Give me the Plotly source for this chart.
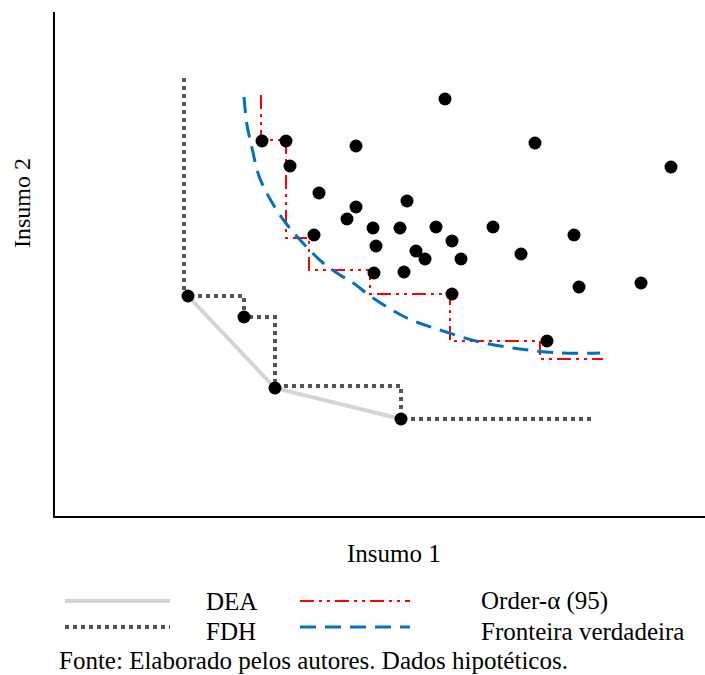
import plotly.graph_objects as go

# ---- data (arbitrary input units) ----
dmu_x = [20.7, 23.1, 23.5, 30.1, 39.0, 48.0, 61.6, 26.4, 35.2, 30.1, 29.2, 31.8, 34.5,
         38.1, 43.8, 25.9, 32.1, 39.7, 51.9, 36.1, 37.0, 40.6, 46.6, 31.9, 34.9, 39.7,
         52.4, 58.6, 49.2, 13.3, 18.9, 22.0, 34.6]
dmu_y = [37.5, 37.5, 35.0, 37.0, 41.7, 37.3, 34.9, 32.3, 31.5, 30.9, 29.7, 28.8, 28.8,
         28.9, 28.9, 28.1, 27.0, 27.5, 28.1, 26.5, 25.7, 25.7, 26.2, 24.3, 24.4, 22.2,
         22.9, 23.3, 17.5, 22.0, 19.9, 12.8, 9.7]

dea_x = [13.3, 22.0, 34.6]
dea_y = [22.0, 12.8, 9.7]

fdh_x = [12.9, 12.9, 18.9, 18.9, 22.0, 22.0, 34.6, 34.6, 53.8]
fdh_y = [43.8, 22.0, 22.0, 19.9, 19.9, 13.0, 13.0, 9.7, 9.7]

ord_x = [20.6, 20.6, 23.1, 23.1, 25.4, 25.4, 31.5, 31.5, 39.5, 39.5, 48.5, 48.5, 54.8]
ord_y = [42.1, 37.6, 37.6, 27.8, 27.8, 24.6, 24.6, 22.2, 22.2, 17.5, 17.5, 15.7, 15.7]

true_x = [18.9, 19.2, 19.7, 20.4, 21.5, 23.0, 24.7, 26.7, 28.5, 29.7, 31.8, 35.2, 38.5,
          42.5, 46.5, 50.5, 54.5]
true_y = [41.9, 39.1, 36.8, 34.0, 31.7, 29.4, 27.4, 25.4, 24.1, 23.4, 21.8, 19.8, 18.6,
          17.4, 16.7, 16.3, 16.3]

legend_labels = ["DEA", "FDH", "Order-α (95)", "Fronteira verdadeira"]
x_title = "Insumo 1"
y_title = "Insumo 2"
caption = "Fonte: Elaborado pelos autores. Dados hipotéticos."

# ---- styles ----
FONT = "Liberation Serif"
C_DEA = "rgb(212,212,212)"
C_FDH = "rgb(85,85,85)"
C_ORD = "rgb(255,0,0)"
C_TRUE = "rgb(0,112,192)"
D_FDH = "4px,4px"
D_ORD = "14px,5px,3px,5px,3px,5px"
D_TRUE = "16px,9px"

fig = go.Figure()
fig.add_trace(go.Scatter(x=dea_x, y=dea_y, mode="lines",
                         line=dict(color=C_DEA, width=4), name=legend_labels[0]))
fig.add_trace(go.Scatter(x=fdh_x, y=fdh_y, mode="lines",
                         line=dict(color=C_FDH, width=4, dash=D_FDH), name=legend_labels[1]))
fig.add_trace(go.Scatter(x=ord_x, y=ord_y, mode="lines",
                         line=dict(color=C_ORD, width=2, dash=D_ORD), name=legend_labels[2]))
fig.add_trace(go.Scatter(x=true_x, y=true_y, mode="lines",
                         line=dict(color=C_TRUE, width=3, dash=D_TRUE, shape="spline",
                                   smoothing=1.0),
                         name=legend_labels[3]))
fig.add_trace(go.Scatter(x=dmu_x, y=dmu_y, mode="markers",
                         marker=dict(color="black", size=13), name="DMU"))

W, H = 705, 675
ML, MR, MT, MB = 55, 0, 12, 159


def paper_x(p):
    return (p - ML) / (W - ML - MR)


def paper_y(p):
    return (H - MB - p) / (H - MT - MB)


shapes = []
anns = []
# legend samples (paper coordinates)
samples = [
    (65, 170, 601, C_DEA, 4, "solid"),
    (65, 170, 627, C_FDH, 4, D_FDH),
    (300, 410, 601, C_ORD, 2, D_ORD),
    (300, 410, 627, C_TRUE, 3, D_TRUE),
]
for x0, x1, yy, col, w, dash in samples:
    shapes.append(dict(type="line", xref="paper", yref="paper",
                       x0=paper_x(x0), x1=paper_x(x1),
                       y0=paper_y(yy), y1=paper_y(yy),
                       line=dict(color=col, width=w, dash=dash)))

text_pos = [(205, 601), (205, 631), (480, 601), (480, 631)]
for lab, (tx, ty) in zip(legend_labels, text_pos):
    anns.append(dict(text=lab, xref="paper", yref="paper", x=paper_x(tx), y=paper_y(ty),
                     xanchor="left", yanchor="middle", showarrow=False, borderpad=0,
                     font=dict(family=FONT, size=25, color="black")))

anns.append(dict(text=caption, xref="paper", yref="paper", x=paper_x(58), y=paper_y(675),
                 xanchor="left", yanchor="bottom", showarrow=False, borderpad=0,
                 font=dict(family=FONT, size=25, color="black")))
anns.append(dict(text=x_title, xref="paper", yref="paper", x=paper_x(394), y=paper_y(553),
                 xanchor="center", yanchor="middle", showarrow=False,
                 font=dict(family=FONT, size=25, color="black")))
anns.append(dict(text=y_title, xref="paper", yref="paper", x=paper_x(22), y=paper_y(203),
                 xanchor="center", yanchor="middle", showarrow=False, textangle=-90,
                 font=dict(family=FONT, size=24, color="black")))

fig.update_layout(
    width=W, height=H,
    margin=dict(l=ML, r=MR, t=MT, b=MB),
    plot_bgcolor="white", paper_bgcolor="white",
    showlegend=False,
    shapes=shapes, annotations=anns,
    xaxis=dict(range=[0, 65], showgrid=False, zeroline=False, showticklabels=False,
               ticks="", showline=True, linecolor="black", linewidth=2),
    yaxis=dict(range=[0, 50.4], showgrid=False, zeroline=False, showticklabels=False,
               ticks="", showline=True, linecolor="black", linewidth=2),
)

fig.write_html("out.html", config={"displayModeBar": False},
               post_script="document.body.style.margin='0';document.body.style.overflow='hidden';")
